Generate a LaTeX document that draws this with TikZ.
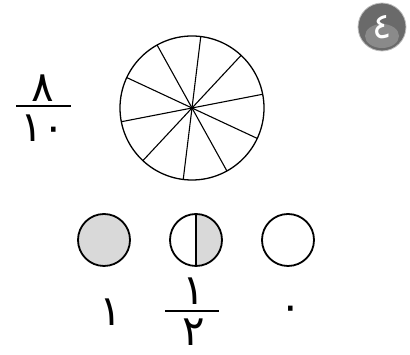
\documentclass[tikz,border=0pt]{standalone}
\usepackage{fontspec}
\usetikzlibrary{calc}
\newfontfamily\arabicfont[Script=Arabic]{DejaVu Sans}
\definecolor{lightfill}{HTML}{D9D9D9}
\definecolor{badgedark}{HTML}{6A6A6A}
\definecolor{badgelight}{HTML}{8A8A8A}
\begin{document}
\begin{tikzpicture}[x=1pt,y=1pt,
  digit/.style={inner sep=0pt,font=\arabicfont\fontsize{42}{42}\selectfont},
  fracbar/.style={line width=1.5pt},
  small/.style={circle,draw,line width=1.8pt,minimum size=52pt,inner sep=0pt}]
\useasboundingbox (0,0) rectangle (410,355);
% badge
\coordinate (bc) at (382,328);
\fill[badgedark] (bc) circle (24pt);
\fill[badgelight] ($(bc)+(0,-9)$) ellipse (17pt and 12pt);
\draw[gray!50,line width=0.8pt] (bc) circle (24pt);
\node[inner sep=0pt,white,font=\arabicfont\fontsize{36}{36}\selectfont] (badge) at (bc) {٤};
% big circle
\coordinate (c) at (192,247);
\draw[line width=1.3pt] (c) circle (72pt);
\foreach \a in {11,47,83,119,155}
  \draw[line width=1.1pt] ($(c)+(\a:72)$) -- ($(c)+(\a+180:72)$);
% left fraction
\node[digit] (n8) at (43,267) {٨};
\node[digit] (n10) at (43,227) {١٠};
\draw[fracbar] (16,249) -- (71,249);
% small circles
\node[small,fill=lightfill] (full) at (104,115) {};
\fill[lightfill] (196,115) ++(90:26) arc (90:-90:26) -- cycle;
\node[small] (half) at (196,115) {};
\draw[line width=1.8pt] (half.north) -- (half.south);
\node[small] (empty) at (288,115) {};
% labels
\node[digit] (one) at (111,43) {١};
\node[digit] (hnum) at (194,64) {١};
\draw[fracbar] (165,44) -- (219,44);
\node[digit] (hden) at (194,23) {٢};
\node[digit] (zero) at (291,42) {٠};
\end{tikzpicture}
\end{document}
